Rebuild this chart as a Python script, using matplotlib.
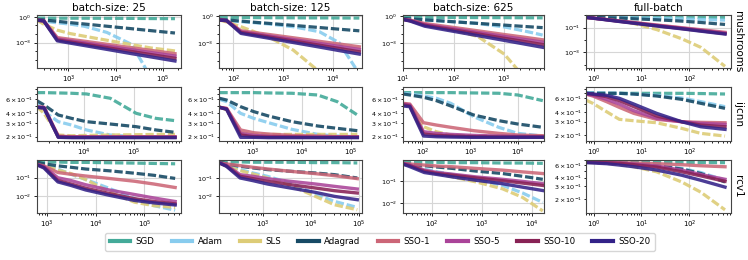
import numpy as np
import matplotlib.pyplot as plt
from matplotlib.lines import Line2D
from matplotlib.ticker import LogLocator, NullFormatter

METHODS = ['SGD', 'Adam', 'SLS', 'Adagrad', 'SSO-1', 'SSO-5', 'SSO-10', 'SSO-20']
COLORS = ['#44AA99', '#88CCEE', '#DDCC77', '#174A65',
          '#CC6677', '#AA4499', '#882255', '#332288']
DATASETS = ['mushrooms', 'ijcnn', 'rcv1']
SETTINGS = ['batch-size: 25', 'batch-size: 125', 'batch-size: 625', 'full-batch']

# logged points, as multiples of the first logged iteration (last one per panel below)
CHECKPOINTS = [1, 1.4, 2.7, 5, 10, 30, 100, 250]

# per row: first logged iteration, last checkpoint multiple, x upper limit
MUSH_X = [(216, 815, 2.36e5), (52.5, 630, 3.69e4), (10, 570, 6.06e3), (0.69, 800, 725)]
IJCNN_X = [(1130, 602, 8.98e5), (212, 643, 1.67e5), (39, 830, 3.43e4), (0.69, 800, 725)]
RCV1_X = [(624, 681, 5.6e5), (123, 750, 1.14e5), (26, 640, 1.76e4), (0.69, 800, 725)]

MUSH_YLIM = [(1.2e-6, 1.6), (1.6e-6, 1.3), (2e-6, 1.3), (5.9e-5, 1.03)]
IJCNN_YLIM = [(0.178, 0.853), (0.178, 0.853), (0.178, 0.853), (0.169, 0.834)]
RCV1_YLIM = [(1.1e-3, 0.95), (1.2e-3, 0.95), (3.4e-3, 0.96), (0.126, 0.706)]

# labelled decades (None = matplotlib's own choice)
MUSH_YTICKS = [[1e-3, 1], [1e-3, 1], [1e-3, 1], [1e-3, 1e-1]]
IJCNN_YTICKS = [None, None, None, None]
RCV1_YTICKS = [[1e-2, 1e-1], [1e-2, 1e-1], [1e-2, 1e-1], None]

nan = float('nan')

# log10 of the training loss, one row per method (order of METHODS)
MUSH_25 = [
    [-0.16, -0.16, -0.17, -0.17, -0.17, -0.18, -0.19, -0.21, -0.22],
    [-0.39, -0.51, -0.70, -0.85, -1.10, -1.82, -3.22, -7.0, nan],
    [-0.39, -0.86, -1.56, -1.95, -2.26, -2.73, -3.24, -3.62, -3.97],
    [-0.29, -0.37, -0.53, -0.68, -0.84, -1.10, -1.39, -1.61, -1.89],
    [-0.39, -0.47, -2.42, -2.62, -2.84, -3.20, -3.60, -3.90, -4.29],
    [-0.39, -0.47, -2.57, -2.79, -3.03, -3.41, -3.83, -4.15, -4.56],
    [-0.39, -0.48, -2.69, -2.92, -3.18, -3.59, -4.04, -4.39, -4.83],
    [-0.40, -0.49, -2.80, -3.06, -3.34, -3.79, -4.29, -4.66, -5.14],
]
MUSH_125 = [
    [-0.17, -0.17, -0.18, -0.18, -0.19, -0.20, -0.21, -0.22, -0.23],
    [-0.45, -0.52, -0.64, -0.75, -0.90, -1.20, -1.76, -3.00, -6.5],
    [-0.45, -0.67, -1.20, -1.76, -2.40, -3.82, -6.25, nan, nan],
    [-0.37, -0.44, -0.57, -0.70, -0.83, -1.05, -1.29, -1.48, -1.66],
    [-0.45, -0.52, -1.65, -1.85, -2.08, -2.44, -2.84, -3.14, -3.45],
    [-0.45, -0.52, -1.76, -1.99, -2.24, -2.64, -3.07, -3.41, -3.75],
    [-0.45, -0.52, -1.84, -2.08, -2.36, -2.79, -3.27, -3.64, -4.01],
    [-0.45, -0.52, -1.95, -2.21, -2.50, -2.97, -3.48, -3.88, -4.27],
]
MUSH_625 = [
    [-0.15, -0.15, -0.15, -0.16, -0.16, -0.17, -0.18, -0.19, -0.20],
    [-0.26, -0.34, -0.45, -0.52, -0.64, -0.82, -1.20, -1.65, -2.10],
    [-0.26, -0.52, -0.90, -1.20, -1.57, -2.25, -4.20, -6.80, nan],
    [-0.26, -0.31, -0.42, -0.52, -0.63, -0.81, -1.00, -1.15, -1.28],
    [-0.37, -0.45, -0.82, -1.03, -1.26, -1.63, -2.04, -2.34, -2.62],
    [-0.37, -0.49, -0.94, -1.16, -1.41, -1.81, -2.25, -2.58, -2.88],
    [-0.37, -0.52, -1.01, -1.26, -1.53, -1.97, -2.45, -2.81, -3.15],
    [-0.37, -0.56, -1.12, -1.39, -1.69, -2.16, -2.69, -3.09, -3.45],
]
MUSH_FULL = [
    [-0.15, -0.15, -0.15, -0.16, -0.16, -0.17, -0.17, -0.18, -0.19],
    [-0.18, -0.18, -0.19, -0.20, -0.22, -0.26, -0.30, -0.35, -0.40],
    [-0.18, -0.23, -0.34, -0.45, -0.67, -1.16, -1.90, -2.59, -4.12],
    [-0.18, -0.18, -0.21, -0.23, -0.29, -0.37, -0.48, -0.59, -0.75],
    [-0.18, -0.23, -0.35, -0.47, -0.59, -0.79, -1.01, -1.17, -1.38],
    [-0.18, -0.24, -0.36, -0.48, -0.61, -0.82, -1.04, -1.21, -1.44],
    [-0.18, -0.24, -0.37, -0.50, -0.63, -0.85, -1.08, -1.26, -1.49],
    [-0.18, -0.24, -0.38, -0.51, -0.65, -0.87, -1.10, -1.29, -1.52],
]

IJCNN_25 = [
    [-0.137, -0.137, -0.141, -0.145, -0.154, -0.209, -0.401, -0.465, -0.494],
    [-0.273, -0.379, -0.507, -0.550, -0.613, -0.677, -0.699, -0.699, -0.699],
    [-0.316, -0.401, -0.677, -0.686, -0.682, -0.677, -0.673, -0.669, -0.669],
    [-0.239, -0.294, -0.422, -0.465, -0.507, -0.537, -0.571, -0.613, -0.643],
    [-0.316, -0.324, -0.690, -0.699, -0.699, -0.699, -0.699, -0.699, -0.699],
    [-0.320, -0.328, -0.699, -0.703, -0.703, -0.703, -0.703, -0.703, -0.703],
    [-0.324, -0.333, -0.703, -0.707, -0.707, -0.707, -0.707, -0.707, -0.707],
    [-0.324, -0.333, -0.707, -0.711, -0.711, -0.711, -0.711, -0.711, -0.711],
]
IJCNN_125 = [
    [-0.137, -0.137, -0.137, -0.137, -0.141, -0.145, -0.167, -0.252, -0.422],
    [-0.222, -0.252, -0.401, -0.465, -0.520, -0.605, -0.669, -0.690, -0.699],
    [-0.316, -0.358, -0.656, -0.669, -0.669, -0.669, -0.669, -0.669, -0.669],
    [-0.209, -0.231, -0.316, -0.379, -0.435, -0.507, -0.562, -0.592, -0.622],
    [-0.324, -0.337, -0.613, -0.648, -0.665, -0.682, -0.690, -0.699, -0.699],
    [-0.324, -0.341, -0.656, -0.682, -0.694, -0.699, -0.703, -0.703, -0.703],
    [-0.324, -0.345, -0.677, -0.699, -0.703, -0.703, -0.707, -0.707, -0.707],
    [-0.324, -0.350, -0.707, -0.707, -0.711, -0.711, -0.711, -0.711, -0.711],
]
IJCNN_625 = [
    [-0.137, -0.137, -0.137, -0.137, -0.137, -0.141, -0.145, -0.167, -0.239],
    [-0.145, -0.154, -0.179, -0.209, -0.273, -0.443, -0.579, -0.656, -0.690],
    [-0.273, -0.294, -0.571, -0.635, -0.677, -0.690, -0.690, -0.690, -0.690],
    [-0.154, -0.167, -0.196, -0.239, -0.307, -0.422, -0.494, -0.537, -0.579],
    [-0.273, -0.282, -0.520, -0.550, -0.579, -0.622, -0.656, -0.677, -0.686],
    [-0.282, -0.294, -0.635, -0.656, -0.669, -0.682, -0.690, -0.694, -0.699],
    [-0.290, -0.307, -0.665, -0.682, -0.690, -0.699, -0.703, -0.703, -0.703],
    [-0.307, -0.316, -0.690, -0.699, -0.703, -0.707, -0.707, -0.707, -0.707],
]
IJCNN_FULL = [
    [-0.157, -0.157, -0.157, -0.157, -0.157, -0.157, -0.157, -0.160, -0.166],
    [-0.148, -0.148, -0.153, -0.157, -0.166, -0.183, -0.218, -0.265, -0.330],
    [-0.244, -0.287, -0.395, -0.495, -0.513, -0.539, -0.612, -0.677, -0.712],
    [-0.157, -0.157, -0.157, -0.157, -0.166, -0.192, -0.235, -0.287, -0.352],
    [-0.166, -0.192, -0.265, -0.339, -0.417, -0.495, -0.526, -0.534, -0.539],
    [-0.166, -0.183, -0.235, -0.296, -0.382, -0.482, -0.526, -0.547, -0.560],
    [-0.157, -0.170, -0.200, -0.252, -0.330, -0.452, -0.526, -0.569, -0.591],
    [-0.157, -0.166, -0.183, -0.222, -0.296, -0.417, -0.526, -0.591, -0.625],
]

RCV1_25 = [
    [-0.135, -0.135, -0.135, -0.154, -0.154, -0.173, -0.192, -0.212, -0.231],
    [-0.192, -0.288, -0.519, -0.808, -1.096, -1.577, -2.154, -2.538, -2.788],
    [-0.192, -0.327, -0.577, -0.769, -1.096, -1.769, -2.346, -2.538, -2.635],
    [-0.135, -0.231, -0.346, -0.423, -0.519, -0.615, -0.750, -0.865, -1.038],
    [-0.269, -0.346, -0.712, -0.808, -0.904, -1.038, -1.192, -1.346, -1.538],
    [-0.269, -0.385, -1.000, -1.154, -1.385, -1.673, -1.923, -2.115, -2.308],
    [-0.269, -0.423, -1.154, -1.346, -1.577, -1.865, -2.154, -2.308, -2.442],
    [-0.288, -0.462, -1.231, -1.423, -1.673, -1.962, -2.250, -2.385, -2.500],
]
RCV1_125 = [
    [-0.127, -0.127, -0.127, -0.145, -0.145, -0.145, -0.164, -0.164, -0.182],
    [-0.182, -0.273, -0.545, -0.727, -0.909, -1.273, -1.873, -2.273, -2.600],
    [-0.182, -0.364, -0.600, -0.782, -1.000, -1.400, -2.000, -2.455, -2.727],
    [-0.127, -0.236, -0.364, -0.455, -0.545, -0.636, -0.727, -0.818, -1.000],
    [-0.182, -0.236, -0.327, -0.418, -0.509, -0.636, -0.764, -0.873, -1.036],
    [-0.182, -0.309, -0.818, -0.909, -1.036, -1.182, -1.327, -1.455, -1.600],
    [-0.182, -0.345, -0.909, -1.036, -1.182, -1.364, -1.545, -1.691, -1.818],
    [-0.182, -0.364, -1.000, -1.145, -1.327, -1.545, -1.782, -2.000, -2.182],
]
RCV1_625 = [
    [-0.125, -0.125, -0.125, -0.125, -0.141, -0.141, -0.156, -0.156, -0.172],
    [-0.219, -0.281, -0.438, -0.563, -0.688, -0.906, -1.188, -1.531, -1.969],
    [-0.219, -0.281, -0.484, -0.641, -0.797, -1.031, -1.344, -1.734, -2.359],
    [-0.172, -0.219, -0.281, -0.344, -0.406, -0.531, -0.641, -0.766, -0.906],
    [-0.172, -0.203, -0.250, -0.297, -0.328, -0.406, -0.484, -0.563, -0.641],
    [-0.172, -0.250, -0.484, -0.594, -0.672, -0.797, -0.906, -1.000, -1.109],
    [-0.188, -0.281, -0.531, -0.641, -0.719, -0.844, -0.969, -1.078, -1.188],
    [-0.203, -0.328, -0.594, -0.688, -0.797, -0.953, -1.109, -1.266, -1.422],
]
RCV1_FULL = [
    [-0.184, -0.184, -0.184, -0.184, -0.184, -0.184, -0.184, -0.186, -0.189],
    [-0.184, -0.184, -0.189, -0.193, -0.203, -0.222, -0.270, -0.327, -0.436],
    [-0.184, -0.189, -0.198, -0.212, -0.246, -0.317, -0.460, -0.603, -0.851],
    [-0.184, -0.184, -0.189, -0.193, -0.203, -0.232, -0.279, -0.341, -0.460],
    [-0.184, -0.184, -0.184, -0.189, -0.193, -0.203, -0.217, -0.232, -0.246],
    [-0.184, -0.184, -0.189, -0.193, -0.208, -0.236, -0.293, -0.355, -0.422],
    [-0.184, -0.184, -0.189, -0.198, -0.217, -0.251, -0.317, -0.374, -0.451],
    [-0.189, -0.193, -0.203, -0.222, -0.246, -0.293, -0.365, -0.436, -0.532],
]

LOSSES = [[MUSH_25, MUSH_125, MUSH_625, MUSH_FULL],
          [IJCNN_25, IJCNN_125, IJCNN_625, IJCNN_FULL],
          [RCV1_25, RCV1_125, RCV1_625, RCV1_FULL]]
XINFO = [MUSH_X, IJCNN_X, RCV1_X]
YLIMS = [MUSH_YLIM, IJCNN_YLIM, RCV1_YLIM]
YTICKS = [MUSH_YTICKS, IJCNN_YTICKS, RCV1_YTICKS]

W, H = 748, 260
col_left = [36.7, 219.3, 402.7, 585.7]
col_right = [181.0, 361.7, 544.0, 730.7]
row_top = [15.0, 87.3, 160.0]
row_bot = [67.7, 140.7, 213.3]

fig = plt.figure(figsize=(W / 100, H / 100), dpi=100)

for r in range(3):
    for c in range(4):
        ax = fig.add_axes([col_left[c] / W, 1 - row_bot[r] / H,
                           (col_right[c] - col_left[c]) / W,
                           (row_bot[r] - row_top[r]) / H])
        x0, last, xmax = XINFO[r][c]
        x = x0 * np.array(CHECKPOINTS + [last], dtype=float)
        for i, name in enumerate(METHODS):
            y = 10 ** np.array(LOSSES[r][c][i], dtype=float)
            if i < 4:
                ax.plot(x, y, color=COLORS[i], lw=2.3, dashes=(2.6, 0.9),
                        alpha=0.9, solid_capstyle='butt')
            else:
                ax.plot(x, y, color=COLORS[i], lw=2.4, alpha=0.88)
        ax.set_xscale('log')
        ax.set_yscale('log')
        ax.set_xlim(x0 * 0.995, xmax)
        ax.set_ylim(*YLIMS[r][c])
        if YTICKS[r][c] is not None:
            ax.set_yticks(YTICKS[r][c])
            ax.yaxis.set_minor_locator(LogLocator(base=10, subs=(1.0,), numticks=20))
            ax.yaxis.set_minor_formatter(NullFormatter())
        ax.grid(True, which='major', color='#d6d6d6', lw=0.8)
        ax.set_axisbelow(True)
        ax.tick_params(which='both', labelsize=5, width=0.6, pad=1.5)
        ax.tick_params(axis='y', which='both', labelsize=4.6)
        ax.tick_params(which='major', length=2.5)
        ax.tick_params(which='minor', length=1.3)
        for s in ax.spines.values():
            s.set_color('#444444')
            s.set_linewidth(0.8)
        if r == 0:
            ax.set_title(SETTINGS[c], fontsize=7.5, pad=3)
        if c == 3:
            ax.text(1.05, 0.5, DATASETS[r], transform=ax.transAxes,
                    rotation=-90, va='center', ha='center', fontsize=7.5)

handles = [Line2D([0], [0], color=COLORS[i], lw=3) for i in range(len(METHODS))]
fig.legend(handles, METHODS, loc='center', bbox_to_anchor=(0.508, 1 - 242 / H),
           ncol=8, fontsize=6.2, handlelength=2.4, columnspacing=2.0,
           handletextpad=0.6, frameon=True, fancybox=True, edgecolor='#cccccc',
           borderpad=0.5)

fig.savefig('out.png', dpi=100)
